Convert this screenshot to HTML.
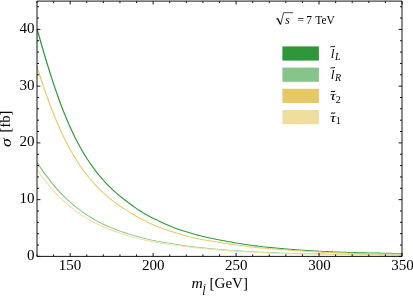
<!DOCTYPE html>
<html><head><meta charset="utf-8"><style>html,body{margin:0;padding:0;background:#fff}svg{display:block;will-change:transform}text{font-family:"Liberation Serif",serif;fill:#000}</style></head><body>
<svg width="413" height="296" viewBox="0 0 413 296">
<rect width="413" height="296" fill="#fff"/>
<path d="M36.38 29.14 L38.04 34.90 L39.70 40.66 L41.36 46.39 L43.02 52.06 L44.69 57.65 L46.35 63.16 L48.01 68.57 L49.67 73.88 L51.34 79.06 L53.00 84.12 L54.66 89.05 L56.33 93.85 L57.99 98.52 L59.65 103.05 L61.32 107.44 L62.98 111.71 L64.64 115.83 L66.31 119.83 L67.97 123.70 L69.63 127.43 L71.30 131.05 L72.96 134.54 L74.63 137.92 L76.29 141.18 L77.96 144.33 L79.62 147.37 L81.29 150.31 L82.95 153.15 L84.62 155.89 L86.28 158.54 L87.95 161.09 L89.61 163.57 L91.28 165.95 L92.94 168.26 L94.61 170.49 L96.28 172.65 L97.94 174.73 L99.61 176.75 L101.27 178.70 L102.94 180.59 L104.61 182.42 L106.27 184.19 L107.94 185.91 L109.60 187.57 L111.27 189.18 L112.94 190.74 L114.60 192.26 L116.27 193.73 L117.93 195.16 L119.60 196.54 L121.27 197.89 L122.93 199.20 L124.60 200.47 L126.26 201.71 L127.92 202.91 L129.58 204.13 L131.23 205.38 L132.90 206.63 L134.56 207.87 L136.23 209.07 L137.90 210.20 L139.57 211.27 L141.23 212.31 L142.90 213.32 L144.57 214.30 L146.23 215.24 L147.90 216.15 L149.57 217.03 L151.23 217.88 L152.90 218.72 L154.56 219.53 L156.22 220.33 L157.88 221.11 L159.54 221.89 L161.20 222.67 L162.86 223.45 L164.53 224.22 L166.19 224.96 L167.86 225.68 L169.52 226.39 L171.18 227.08 L172.85 227.76 L174.51 228.42 L176.18 229.05 L177.84 229.65 L179.51 230.22 L181.17 230.78 L182.84 231.32 L184.50 231.85 L186.16 232.36 L187.83 232.87 L189.49 233.36 L191.15 233.83 L192.81 234.29 L194.47 234.75 L196.14 235.20 L197.80 235.64 L199.46 236.07 L201.12 236.50 L202.78 236.92 L204.45 237.32 L206.11 237.71 L207.77 238.09 L209.44 238.44 L211.10 238.77 L212.76 239.09 L214.42 239.42 L216.08 239.75 L217.74 240.08 L219.40 240.41 L221.06 240.73 L222.72 241.05 L224.38 241.36 L226.04 241.68 L227.70 241.99 L229.36 242.29 L231.02 242.59 L232.68 242.88 L234.34 243.17 L236.00 243.46 L237.66 243.74 L239.32 244.01 L240.99 244.28 L242.65 244.55 L244.31 244.80 L245.97 245.05 L247.63 245.30 L249.29 245.53 L250.95 245.75 L252.62 245.97 L254.28 246.19 L255.93 246.40 L257.59 246.61 L259.25 246.81 L260.91 247.02 L262.58 247.22 L264.24 247.41 L265.90 247.60 L267.56 247.78 L269.22 247.95 L270.89 248.10 L272.55 248.25 L274.21 248.39 L275.87 248.53 L277.52 248.67 L279.18 248.82 L280.84 248.98 L282.50 249.13 L284.16 249.29 L285.82 249.44 L287.48 249.58 L289.14 249.72 L290.80 249.86 L292.46 249.99 L294.12 250.12 L295.78 250.25 L297.44 250.38 L299.10 250.50 L300.76 250.62 L302.42 250.73 L304.08 250.84 L305.74 250.95 L307.40 251.06 L309.06 251.16 L310.72 251.26 L312.38 251.36 L314.04 251.46 L315.70 251.55 L317.36 251.64 L319.02 251.73 L320.68 251.81 L322.34 251.90 L324.00 251.98 L325.66 252.06 L327.32 252.13 L328.98 252.21 L330.64 252.28 L332.30 252.35 L333.96 252.42 L335.62 252.49 L337.28 252.55 L338.94 252.61 L340.60 252.67 L342.26 252.73 L343.91 252.79 L345.57 252.84 L347.23 252.89 L348.89 252.95 L350.55 253.00 L352.21 253.04 L353.87 253.09 L355.53 253.14 L357.19 253.18 L358.85 253.22 L360.51 253.26 L362.17 253.30 L363.83 253.34 L365.49 253.37 L367.15 253.41 L368.81 253.44 L370.47 253.47 L372.13 253.50 L373.79 253.53 L375.44 253.57 L377.10 253.60 L378.76 253.64 L380.42 253.67 L382.08 253.70 L383.74 253.74 L385.40 253.77 L387.06 253.81 L388.72 253.84 L390.38 253.87 L392.04 253.90 L393.70 253.93 L395.35 253.96 L397.01 253.99 L398.67 254.02 L400.33 254.04 L401.99 254.07 L402.01 253.05 L400.35 253.03 L398.69 253.00 L397.03 252.98 L395.37 252.95 L393.71 252.92 L392.05 252.89 L390.40 252.86 L388.74 252.82 L387.08 252.79 L385.42 252.76 L383.76 252.72 L382.10 252.69 L380.44 252.65 L378.78 252.62 L377.12 252.59 L375.46 252.55 L373.81 252.52 L372.15 252.49 L370.49 252.45 L368.83 252.42 L367.17 252.39 L365.51 252.36 L363.85 252.32 L362.19 252.28 L360.53 252.24 L358.88 252.20 L357.22 252.16 L355.56 252.12 L353.90 252.07 L352.24 252.03 L350.58 251.98 L348.92 251.93 L347.27 251.88 L345.61 251.82 L343.95 251.77 L342.29 251.71 L340.63 251.65 L338.97 251.59 L337.31 251.53 L335.66 251.47 L334.00 251.40 L332.34 251.33 L330.68 251.26 L329.02 251.19 L327.36 251.12 L325.71 251.04 L324.05 250.96 L322.39 250.88 L320.73 250.80 L319.07 250.71 L317.41 250.62 L315.76 250.53 L314.10 250.44 L312.44 250.34 L310.78 250.24 L309.12 250.14 L307.46 250.04 L305.81 249.93 L304.15 249.82 L302.49 249.71 L300.83 249.59 L299.17 249.48 L297.52 249.35 L295.86 249.23 L294.20 249.10 L292.54 248.97 L290.88 248.84 L289.22 248.70 L287.57 248.56 L285.91 248.41 L284.25 248.26 L282.59 248.11 L280.93 247.96 L279.27 247.80 L277.61 247.65 L275.95 247.50 L274.29 247.36 L272.64 247.22 L270.98 247.08 L269.32 246.92 L267.67 246.76 L266.01 246.58 L264.35 246.39 L262.70 246.19 L261.04 245.99 L259.38 245.79 L257.72 245.58 L256.07 245.37 L254.41 245.16 L252.75 244.94 L251.09 244.73 L249.43 244.50 L247.78 244.27 L246.12 244.03 L244.47 243.78 L242.81 243.52 L241.15 243.25 L239.49 242.98 L237.84 242.71 L236.18 242.43 L234.52 242.14 L232.86 241.85 L231.21 241.56 L229.55 241.26 L227.89 240.96 L226.23 240.65 L224.57 240.34 L222.92 240.02 L221.26 239.70 L219.60 239.38 L217.94 239.05 L216.28 238.72 L214.63 238.38 L212.96 238.06 L211.31 237.73 L209.65 237.40 L208.00 237.06 L206.35 236.68 L204.69 236.29 L203.04 235.89 L201.38 235.47 L199.72 235.05 L198.07 234.61 L196.41 234.17 L194.75 233.73 L193.10 233.27 L191.44 232.81 L189.78 232.33 L188.13 231.85 L186.47 231.35 L184.82 230.83 L183.16 230.30 L181.51 229.76 L179.85 229.21 L178.20 228.64 L176.55 228.04 L174.90 227.42 L173.24 226.76 L171.59 226.09 L169.94 225.40 L168.28 224.69 L166.63 223.97 L164.97 223.23 L163.32 222.47 L161.66 221.70 L160.00 220.91 L158.34 220.13 L156.69 219.35 L155.03 218.55 L153.38 217.74 L151.72 216.91 L150.07 216.06 L148.42 215.19 L146.77 214.29 L145.11 213.35 L143.46 212.38 L141.81 211.37 L140.16 210.34 L138.51 209.28 L136.86 208.17 L135.21 206.98 L133.56 205.75 L131.90 204.50 L130.24 203.24 L128.58 202.02 L126.92 200.81 L125.27 199.58 L123.61 198.32 L121.96 197.02 L120.31 195.68 L118.66 194.30 L117.00 192.88 L115.35 191.42 L113.70 189.92 L112.05 188.36 L110.40 186.76 L108.74 185.11 L107.09 183.41 L105.44 181.65 L103.79 179.83 L102.14 177.95 L100.48 176.01 L98.83 174.01 L97.18 171.94 L95.53 169.79 L93.87 167.58 L92.22 165.28 L90.57 162.91 L88.92 160.45 L87.26 157.91 L85.61 155.28 L83.96 152.55 L82.31 149.72 L80.65 146.80 L79.00 143.77 L77.34 140.63 L75.69 137.39 L74.04 134.02 L72.38 130.54 L70.73 126.94 L69.08 123.21 L67.42 119.36 L65.77 115.37 L64.11 111.26 L62.46 107.01 L60.80 102.62 L59.15 98.10 L57.49 93.44 L55.84 88.65 L54.18 83.73 L52.53 78.67 L50.87 73.50 L49.22 68.20 L47.56 62.79 L45.91 57.29 L44.25 51.70 L42.59 46.03 L40.94 40.30 L39.28 34.55 L37.62 28.78Z" fill="#2f9a3b"/>
<path d="M36.46 162.59 L38.12 165.14 L39.79 167.64 L41.46 170.07 L43.13 172.44 L44.79 174.76 L46.46 177.01 L48.13 179.21 L49.80 181.34 L51.47 183.42 L53.14 185.43 L54.80 187.39 L56.47 189.29 L58.14 191.13 L59.81 192.92 L61.48 194.66 L63.15 196.34 L64.82 197.97 L66.48 199.56 L68.15 201.09 L69.82 202.58 L71.49 204.02 L73.16 205.41 L74.83 206.76 L76.49 208.08 L78.16 209.35 L79.83 210.60 L81.49 211.81 L83.16 212.99 L84.83 214.14 L86.49 215.26 L88.16 216.34 L89.83 217.39 L91.49 218.41 L93.16 219.40 L94.83 220.35 L96.49 221.27 L98.16 222.16 L99.83 223.02 L101.49 223.84 L103.16 224.64 L104.82 225.42 L106.49 226.17 L108.15 226.91 L109.82 227.62 L111.48 228.31 L113.15 228.98 L114.81 229.63 L116.47 230.27 L118.14 230.88 L119.80 231.48 L121.46 232.07 L123.13 232.63 L124.79 233.19 L126.45 233.72 L128.12 234.25 L129.78 234.75 L131.44 235.25 L133.10 235.74 L134.77 236.22 L136.43 236.69 L138.09 237.15 L139.75 237.61 L141.41 238.05 L143.07 238.48 L144.74 238.90 L146.40 239.31 L148.06 239.71 L149.72 240.10 L151.39 240.47 L153.05 240.83 L154.71 241.18 L156.37 241.50 L158.04 241.82 L159.70 242.12 L161.36 242.41 L163.02 242.69 L164.68 242.97 L166.34 243.24 L168.00 243.51 L169.66 243.78 L171.32 244.06 L172.98 244.32 L174.64 244.58 L176.30 244.83 L177.96 245.08 L179.62 245.32 L181.28 245.56 L182.95 245.79 L184.61 246.01 L186.27 246.23 L187.93 246.45 L189.59 246.66 L191.25 246.87 L192.91 247.07 L194.57 247.27 L196.23 247.46 L197.89 247.65 L199.55 247.83 L201.21 248.01 L202.87 248.19 L204.53 248.36 L206.19 248.53 L207.85 248.69 L209.51 248.86 L211.17 249.01 L212.83 249.17 L214.49 249.32 L216.15 249.47 L217.81 249.61 L219.47 249.75 L221.13 249.89 L222.79 250.03 L224.45 250.16 L226.11 250.29 L227.77 250.42 L229.43 250.54 L231.09 250.67 L232.75 250.79 L234.41 250.90 L236.07 251.02 L237.73 251.13 L239.38 251.24 L241.04 251.35 L242.70 251.45 L244.36 251.55 L246.02 251.65 L247.68 251.75 L249.34 251.85 L251.00 251.94 L252.66 252.04 L254.32 252.13 L255.98 252.22 L257.64 252.30 L259.30 252.39 L260.96 252.47 L262.62 252.55 L264.28 252.63 L265.94 252.71 L267.60 252.79 L269.26 252.86 L270.92 252.94 L272.58 253.01 L274.23 253.08 L275.89 253.15 L277.55 253.21 L279.21 253.28 L280.87 253.34 L282.53 253.41 L284.19 253.47 L285.85 253.53 L287.51 253.59 L289.17 253.64 L290.83 253.69 L292.49 253.74 L294.15 253.78 L295.81 253.81 L297.47 253.85 L299.13 253.88 L300.79 253.91 L302.45 253.94 L304.11 253.98 L305.77 254.01 L307.43 254.04 L309.08 254.07 L310.74 254.09 L312.40 254.12 L314.06 254.14 L315.72 254.17 L317.38 254.19 L319.04 254.22 L320.70 254.24 L322.36 254.26 L324.02 254.29 L325.68 254.32 L327.33 254.35 L328.99 254.38 L330.65 254.41 L332.31 254.44 L333.97 254.48 L335.63 254.51 L337.29 254.54 L338.95 254.57 L340.61 254.60 L342.27 254.63 L343.93 254.66 L345.59 254.69 L347.24 254.71 L348.90 254.74 L350.56 254.77 L352.22 254.79 L353.88 254.82 L355.54 254.84 L357.20 254.86 L358.86 254.89 L360.52 254.91 L362.18 254.93 L363.84 254.96 L365.50 254.98 L367.15 255.00 L368.81 255.02 L370.47 255.04 L372.13 255.06 L373.79 255.08 L375.45 255.10 L377.11 255.11 L378.77 255.13 L380.43 255.15 L382.09 255.17 L383.75 255.18 L385.41 255.20 L387.06 255.21 L388.72 255.23 L390.38 255.24 L392.04 255.26 L393.70 255.27 L395.36 255.29 L397.02 255.30 L398.68 255.31 L400.34 255.33 L402.00 255.34 L402.00 254.65 L400.34 254.64 L398.68 254.63 L397.03 254.62 L395.37 254.60 L393.71 254.59 L392.05 254.57 L390.39 254.56 L388.73 254.54 L387.07 254.53 L385.41 254.51 L383.75 254.49 L382.09 254.48 L380.44 254.46 L378.78 254.44 L377.12 254.43 L375.46 254.41 L373.80 254.39 L372.14 254.37 L370.48 254.35 L368.82 254.33 L367.16 254.31 L365.50 254.29 L363.85 254.26 L362.19 254.24 L360.53 254.22 L358.87 254.20 L357.21 254.17 L355.55 254.15 L353.89 254.12 L352.23 254.10 L350.57 254.07 L348.91 254.05 L347.26 254.02 L345.60 253.99 L343.94 253.96 L342.28 253.93 L340.62 253.90 L338.96 253.87 L337.30 253.84 L335.64 253.81 L333.98 253.78 L332.33 253.75 L330.67 253.71 L329.01 253.68 L327.35 253.65 L325.69 253.62 L324.03 253.59 L322.37 253.56 L320.71 253.54 L319.05 253.51 L317.39 253.49 L315.73 253.46 L314.07 253.44 L312.41 253.42 L310.76 253.39 L309.10 253.36 L307.44 253.33 L305.78 253.30 L304.12 253.27 L302.46 253.23 L300.80 253.20 L299.14 253.17 L297.48 253.14 L295.83 253.10 L294.17 253.06 L292.51 253.02 L290.85 252.98 L289.19 252.93 L287.53 252.87 L285.88 252.81 L284.22 252.75 L282.56 252.69 L280.90 252.63 L279.24 252.56 L277.58 252.49 L275.92 252.43 L274.27 252.36 L272.61 252.28 L270.95 252.21 L269.29 252.14 L267.63 252.06 L265.97 251.99 L264.31 251.91 L262.65 251.83 L261.00 251.74 L259.34 251.66 L257.68 251.57 L256.02 251.48 L254.36 251.40 L252.70 251.30 L251.04 251.21 L249.38 251.11 L247.73 251.02 L246.07 250.92 L244.41 250.82 L242.75 250.71 L241.09 250.61 L239.43 250.50 L237.77 250.39 L236.12 250.27 L234.46 250.16 L232.80 250.04 L231.14 249.92 L229.48 249.80 L227.82 249.67 L226.17 249.54 L224.51 249.41 L222.85 249.28 L221.19 249.14 L219.53 249.00 L217.87 248.85 L216.22 248.71 L214.56 248.56 L212.90 248.41 L211.24 248.25 L209.58 248.09 L207.92 247.93 L206.27 247.76 L204.61 247.59 L202.95 247.42 L201.29 247.24 L199.63 247.06 L197.98 246.87 L196.32 246.68 L194.66 246.49 L193.00 246.29 L191.34 246.08 L189.69 245.88 L188.03 245.66 L186.37 245.45 L184.71 245.23 L183.05 245.00 L181.40 244.77 L179.74 244.53 L178.08 244.28 L176.42 244.04 L174.77 243.78 L173.11 243.52 L171.45 243.25 L169.79 242.98 L168.13 242.71 L166.48 242.43 L164.82 242.16 L163.16 241.88 L161.50 241.59 L159.85 241.30 L158.19 241.00 L156.53 240.68 L154.88 240.35 L153.22 240.01 L151.57 239.65 L149.91 239.27 L148.26 238.88 L146.60 238.48 L144.95 238.07 L143.29 237.65 L141.63 237.22 L139.98 236.77 L138.32 236.32 L136.66 235.85 L135.01 235.38 L133.35 234.89 L131.69 234.40 L130.04 233.90 L128.38 233.39 L126.73 232.87 L125.07 232.33 L123.42 231.78 L121.76 231.21 L120.11 230.63 L118.45 230.02 L116.80 229.41 L115.14 228.77 L113.49 228.12 L111.84 227.45 L110.18 226.75 L108.53 226.04 L106.88 225.31 L105.22 224.55 L103.57 223.78 L101.92 222.98 L100.26 222.15 L98.61 221.30 L96.96 220.41 L95.31 219.49 L93.66 218.54 L92.01 217.56 L90.36 216.54 L88.71 215.49 L87.05 214.41 L85.40 213.29 L83.75 212.15 L82.10 210.97 L80.45 209.76 L78.80 208.52 L77.14 207.24 L75.49 205.93 L73.84 204.58 L72.19 203.19 L70.54 201.76 L68.89 200.28 L67.24 198.75 L65.59 197.17 L63.94 195.55 L62.29 193.87 L60.64 192.14 L58.99 190.36 L57.34 188.52 L55.70 186.62 L54.05 184.67 L52.40 182.66 L50.75 180.59 L49.10 178.47 L47.45 176.28 L45.80 174.03 L44.15 171.72 L42.50 169.35 L40.85 166.92 L39.20 164.43 L37.54 161.88Z" fill="#86c68b"/>
<path d="M36.43 66.99 L38.09 72.14 L39.75 77.21 L41.42 82.20 L43.08 87.10 L44.74 91.90 L46.40 96.58 L48.07 101.15 L49.73 105.61 L51.39 109.95 L53.05 114.16 L54.72 118.25 L56.38 122.23 L58.04 126.08 L59.71 129.81 L61.37 133.42 L63.04 136.92 L64.70 140.30 L66.36 143.58 L68.03 146.74 L69.69 149.80 L71.36 152.75 L73.02 155.61 L74.69 158.37 L76.35 161.03 L78.02 163.61 L79.68 166.10 L81.35 168.50 L83.01 170.82 L84.68 173.07 L86.34 175.23 L88.01 177.33 L89.68 179.36 L91.34 181.31 L93.01 183.21 L94.67 185.04 L96.34 186.81 L98.00 188.53 L99.67 190.19 L101.34 191.79 L103.00 193.35 L104.67 194.86 L106.33 196.32 L108.00 197.74 L109.67 199.11 L111.33 200.44 L113.00 201.73 L114.66 202.98 L116.33 204.20 L117.99 205.38 L119.66 206.53 L121.32 207.65 L122.99 208.73 L124.66 209.78 L126.32 210.81 L127.98 211.80 L129.64 212.81 L131.29 213.84 L132.95 214.88 L134.62 215.91 L136.28 216.91 L137.95 217.86 L139.62 218.77 L141.28 219.65 L142.95 220.51 L144.61 221.34 L146.28 222.15 L147.94 222.94 L149.60 223.72 L151.26 224.49 L152.93 225.24 L154.60 225.96 L156.26 226.65 L157.93 227.30 L159.60 227.93 L161.26 228.54 L162.92 229.14 L164.58 229.72 L166.25 230.29 L167.91 230.85 L169.57 231.41 L171.23 231.95 L172.89 232.48 L174.55 233.01 L176.21 233.52 L177.87 234.03 L179.53 234.55 L181.19 235.06 L182.86 235.56 L184.52 236.04 L186.19 236.50 L187.85 236.93 L189.51 237.35 L191.18 237.77 L192.84 238.17 L194.50 238.56 L196.16 238.94 L197.83 239.29 L199.50 239.62 L201.16 239.92 L202.83 240.20 L204.49 240.47 L206.15 240.74 L207.81 241.02 L209.47 241.28 L211.13 241.54 L212.78 241.80 L214.44 242.08 L216.10 242.36 L217.76 242.65 L219.42 242.93 L221.08 243.22 L222.74 243.49 L224.40 243.76 L226.06 244.01 L227.73 244.25 L229.39 244.48 L231.05 244.70 L232.71 244.92 L234.36 245.14 L236.02 245.38 L237.68 245.62 L239.34 245.86 L241.00 246.09 L242.66 246.32 L244.32 246.54 L245.98 246.76 L247.64 246.97 L249.30 247.18 L250.96 247.38 L252.62 247.58 L254.28 247.78 L255.94 247.97 L257.61 248.16 L259.27 248.32 L260.94 248.47 L262.60 248.60 L264.26 248.73 L265.91 248.86 L267.57 249.00 L269.23 249.14 L270.89 249.28 L272.55 249.42 L274.21 249.56 L275.87 249.70 L277.53 249.83 L279.19 249.95 L280.85 250.07 L282.51 250.19 L284.17 250.31 L285.83 250.43 L287.49 250.55 L289.15 250.66 L290.81 250.78 L292.47 250.90 L294.13 251.02 L295.79 251.13 L297.45 251.24 L299.10 251.35 L300.76 251.46 L302.42 251.56 L304.08 251.66 L305.74 251.76 L307.40 251.86 L309.06 251.95 L310.72 252.05 L312.38 252.14 L314.04 252.22 L315.70 252.31 L317.36 252.39 L319.02 252.48 L320.68 252.56 L322.34 252.63 L324.00 252.71 L325.66 252.79 L327.32 252.86 L328.98 252.93 L330.64 253.00 L332.30 253.07 L333.96 253.13 L335.62 253.20 L337.28 253.26 L338.94 253.32 L340.60 253.38 L342.26 253.44 L343.92 253.49 L345.58 253.55 L347.23 253.60 L348.89 253.66 L350.55 253.71 L352.21 253.76 L353.87 253.80 L355.53 253.85 L357.19 253.90 L358.85 253.94 L360.51 253.99 L362.17 254.03 L363.83 254.07 L365.49 254.11 L367.15 254.15 L368.81 254.19 L370.47 254.23 L372.13 254.26 L373.79 254.29 L375.45 254.32 L377.11 254.35 L378.77 254.37 L380.43 254.40 L382.09 254.42 L383.74 254.44 L385.40 254.45 L387.06 254.47 L388.72 254.48 L390.38 254.49 L392.04 254.51 L393.70 254.52 L395.36 254.53 L397.02 254.53 L398.68 254.54 L400.34 254.55 L402.00 254.56 L402.00 253.60 L400.34 253.59 L398.68 253.58 L397.03 253.57 L395.37 253.56 L393.71 253.56 L392.05 253.54 L390.39 253.53 L388.73 253.52 L387.07 253.51 L385.41 253.49 L383.76 253.47 L382.10 253.45 L380.44 253.43 L378.78 253.41 L377.12 253.39 L375.46 253.36 L373.80 253.33 L372.15 253.30 L370.49 253.26 L368.83 253.23 L367.17 253.19 L365.51 253.15 L363.85 253.11 L362.19 253.07 L360.54 253.02 L358.88 252.98 L357.22 252.93 L355.56 252.89 L353.90 252.84 L352.24 252.79 L350.58 252.74 L348.92 252.69 L347.27 252.64 L345.61 252.58 L343.95 252.53 L342.29 252.47 L340.63 252.41 L338.97 252.35 L337.31 252.29 L335.65 252.23 L334.00 252.17 L332.34 252.10 L330.68 252.03 L329.02 251.96 L327.36 251.89 L325.70 251.82 L324.04 251.74 L322.39 251.67 L320.73 251.59 L319.07 251.51 L317.41 251.43 L315.75 251.34 L314.09 251.26 L312.44 251.17 L310.78 251.08 L309.12 250.99 L307.46 250.89 L305.80 250.80 L304.14 250.70 L302.48 250.59 L300.83 250.49 L299.17 250.38 L297.51 250.28 L295.85 250.16 L294.19 250.05 L292.53 249.93 L290.88 249.81 L289.22 249.69 L287.56 249.57 L285.90 249.46 L284.24 249.34 L282.58 249.22 L280.92 249.10 L279.26 248.98 L277.61 248.85 L275.95 248.72 L274.29 248.59 L272.63 248.45 L270.97 248.31 L269.31 248.17 L267.66 248.03 L265.99 247.89 L264.33 247.75 L262.67 247.63 L261.02 247.49 L259.36 247.35 L257.71 247.18 L256.06 247.00 L254.40 246.80 L252.74 246.61 L251.08 246.41 L249.42 246.20 L247.77 245.99 L246.11 245.78 L244.45 245.56 L242.79 245.34 L241.14 245.11 L239.48 244.88 L237.82 244.65 L236.16 244.40 L234.50 244.17 L232.84 243.94 L231.18 243.72 L229.52 243.50 L227.86 243.27 L226.21 243.03 L224.55 242.78 L222.90 242.51 L221.24 242.24 L219.58 241.96 L217.93 241.67 L216.27 241.38 L214.61 241.10 L212.94 240.82 L211.28 240.56 L209.62 240.30 L207.97 240.04 L206.31 239.76 L204.65 239.49 L202.99 239.21 L201.34 238.93 L199.68 238.63 L198.03 238.31 L196.38 237.96 L194.73 237.58 L193.07 237.19 L191.41 236.79 L189.76 236.38 L188.10 235.96 L186.45 235.52 L184.80 235.07 L183.14 234.59 L181.49 234.09 L179.83 233.58 L178.17 233.07 L176.51 232.56 L174.86 232.04 L173.20 231.52 L171.54 230.99 L169.89 230.44 L168.23 229.89 L166.57 229.33 L164.92 228.76 L163.26 228.18 L161.61 227.58 L159.95 226.97 L158.30 226.35 L156.65 225.70 L155.00 225.02 L153.34 224.30 L151.69 223.56 L150.03 222.79 L148.38 222.02 L146.72 221.23 L145.07 220.42 L143.42 219.59 L141.76 218.74 L140.11 217.86 L138.46 216.96 L136.81 216.02 L135.16 215.03 L133.50 214.00 L131.84 212.96 L130.18 211.93 L128.52 210.91 L126.86 209.92 L125.21 208.90 L123.56 207.85 L121.90 206.77 L120.25 205.66 L118.60 204.52 L116.94 203.35 L115.29 202.14 L113.64 200.89 L111.99 199.61 L110.33 198.29 L108.68 196.92 L107.03 195.52 L105.38 194.06 L103.72 192.57 L102.07 191.02 L100.42 189.42 L98.77 187.77 L97.12 186.07 L95.46 184.31 L93.81 182.49 L92.16 180.61 L90.51 178.66 L88.85 176.65 L87.20 174.56 L85.55 172.41 L83.90 170.18 L82.24 167.87 L80.59 165.48 L78.94 163.00 L77.28 160.44 L75.63 157.79 L73.98 155.04 L72.32 152.20 L70.67 149.26 L69.02 146.21 L67.36 143.06 L65.71 139.80 L64.05 136.43 L62.40 132.94 L60.75 129.34 L59.09 125.62 L57.44 121.78 L55.78 117.82 L54.13 113.73 L52.47 109.53 L50.82 105.20 L49.16 100.75 L47.51 96.19 L45.85 91.51 L44.20 86.72 L42.54 81.83 L40.88 76.84 L39.23 71.77 L37.57 66.62Z" fill="#e9c963"/>
<path d="M36.52 169.55 L38.18 172.05 L39.85 174.47 L41.52 176.81 L43.18 179.09 L44.85 181.29 L46.51 183.43 L48.18 185.50 L49.85 187.50 L51.51 189.44 L53.18 191.31 L54.85 193.13 L56.51 194.89 L58.18 196.59 L59.85 198.23 L61.51 199.83 L63.18 201.38 L64.85 202.89 L66.51 204.36 L68.18 205.78 L69.84 207.16 L71.51 208.50 L73.18 209.79 L74.84 211.05 L76.51 212.26 L78.18 213.43 L79.84 214.57 L81.51 215.68 L83.17 216.76 L84.84 217.80 L86.51 218.81 L88.17 219.80 L89.84 220.75 L91.50 221.67 L93.17 222.56 L94.83 223.42 L96.50 224.25 L98.17 225.06 L99.83 225.84 L101.50 226.59 L103.16 227.32 L104.83 228.02 L106.49 228.71 L108.15 229.38 L109.82 230.03 L111.48 230.66 L113.15 231.28 L114.81 231.88 L116.47 232.46 L118.14 233.03 L119.80 233.58 L121.46 234.12 L123.12 234.66 L124.78 235.20 L126.44 235.74 L128.10 236.26 L129.77 236.77 L131.43 237.26 L133.10 237.73 L134.76 238.18 L136.42 238.60 L138.09 239.01 L139.75 239.42 L141.41 239.81 L143.07 240.19 L144.73 240.57 L146.40 240.93 L148.06 241.29 L149.72 241.63 L151.38 241.97 L153.04 242.30 L154.71 242.63 L156.37 242.92 L158.04 243.20 L159.70 243.45 L161.36 243.69 L163.02 243.92 L164.68 244.15 L166.34 244.38 L168.00 244.62 L169.65 244.87 L171.31 245.12 L172.97 245.37 L174.64 245.62 L176.30 245.85 L177.96 246.09 L179.62 246.32 L181.28 246.54 L182.94 246.76 L184.60 246.97 L186.26 247.18 L187.92 247.38 L189.58 247.58 L191.24 247.78 L192.90 247.97 L194.56 248.15 L196.22 248.34 L197.88 248.52 L199.54 248.69 L201.20 248.86 L202.86 249.03 L204.52 249.19 L206.18 249.35 L207.84 249.51 L209.50 249.66 L211.16 249.81 L212.82 249.96 L214.48 250.10 L216.14 250.24 L217.80 250.38 L219.46 250.51 L221.12 250.65 L222.78 250.78 L224.44 250.90 L226.10 251.02 L227.76 251.15 L229.42 251.26 L231.08 251.38 L232.74 251.49 L234.40 251.60 L236.06 251.71 L237.72 251.82 L239.38 251.92 L241.04 252.02 L242.70 252.12 L244.36 252.22 L246.02 252.32 L247.68 252.41 L249.34 252.50 L251.00 252.59 L252.66 252.68 L254.32 252.76 L255.98 252.85 L257.64 252.93 L259.30 253.01 L260.96 253.09 L262.62 253.17 L264.27 253.24 L265.93 253.31 L267.59 253.39 L269.25 253.46 L270.91 253.53 L272.57 253.59 L274.23 253.66 L275.89 253.73 L277.55 253.79 L279.21 253.85 L280.87 253.91 L282.53 253.97 L284.19 254.03 L285.85 254.09 L287.51 254.14 L289.17 254.19 L290.83 254.23 L292.49 254.27 L294.15 254.30 L295.81 254.33 L297.47 254.35 L299.13 254.38 L300.79 254.40 L302.45 254.42 L304.11 254.45 L305.77 254.48 L307.42 254.50 L309.08 254.53 L310.74 254.55 L312.40 254.57 L314.06 254.59 L315.72 254.62 L317.38 254.64 L319.04 254.66 L320.70 254.68 L322.36 254.70 L324.02 254.73 L325.67 254.75 L327.33 254.78 L328.99 254.81 L330.65 254.84 L332.31 254.87 L333.97 254.90 L335.63 254.93 L337.29 254.96 L338.95 254.99 L340.61 255.02 L342.27 255.05 L343.92 255.07 L345.58 255.10 L347.24 255.12 L348.90 255.15 L350.56 255.17 L352.22 255.20 L353.88 255.22 L355.54 255.24 L357.20 255.27 L358.86 255.29 L360.52 255.31 L362.18 255.33 L363.84 255.35 L365.49 255.37 L367.15 255.39 L368.81 255.41 L370.47 255.43 L372.13 255.45 L373.79 255.46 L375.45 255.48 L377.11 255.50 L378.77 255.52 L380.43 255.53 L382.09 255.55 L383.75 255.56 L385.40 255.58 L387.06 255.59 L388.72 255.61 L390.38 255.62 L392.04 255.64 L393.70 255.65 L395.36 255.66 L397.02 255.68 L398.68 255.69 L400.34 255.70 L402.00 255.71 L402.00 254.80 L400.34 254.79 L398.69 254.78 L397.03 254.76 L395.37 254.75 L393.71 254.74 L392.05 254.72 L390.39 254.71 L388.73 254.70 L387.07 254.68 L385.41 254.67 L383.75 254.65 L382.10 254.63 L380.44 254.62 L378.78 254.60 L377.12 254.59 L375.46 254.57 L373.80 254.55 L372.14 254.53 L370.48 254.51 L368.82 254.50 L367.16 254.48 L365.51 254.46 L363.85 254.44 L362.19 254.42 L360.53 254.39 L358.87 254.37 L357.21 254.35 L355.55 254.33 L353.89 254.30 L352.23 254.28 L350.57 254.26 L348.92 254.23 L347.26 254.21 L345.60 254.18 L343.94 254.16 L342.28 254.13 L340.62 254.10 L338.96 254.07 L337.30 254.04 L335.64 254.01 L333.99 253.98 L332.33 253.95 L330.67 253.92 L329.01 253.89 L327.35 253.86 L325.69 253.83 L324.03 253.81 L322.37 253.79 L320.71 253.76 L319.05 253.74 L317.39 253.72 L315.73 253.70 L314.07 253.67 L312.42 253.65 L310.76 253.63 L309.10 253.61 L307.44 253.58 L305.78 253.55 L304.12 253.53 L302.46 253.50 L300.80 253.48 L299.14 253.45 L297.48 253.43 L295.83 253.40 L294.17 253.38 L292.51 253.35 L290.85 253.31 L289.19 253.27 L287.54 253.22 L285.88 253.16 L284.22 253.11 L282.56 253.05 L280.90 252.99 L279.24 252.93 L277.59 252.86 L275.93 252.80 L274.27 252.73 L272.61 252.67 L270.95 252.60 L269.29 252.53 L267.63 252.46 L265.97 252.39 L264.32 252.31 L262.66 252.24 L261.00 252.16 L259.34 252.08 L257.68 252.00 L256.02 251.92 L254.36 251.83 L252.71 251.75 L251.05 251.66 L249.39 251.57 L247.73 251.48 L246.07 251.38 L244.41 251.29 L242.76 251.19 L241.10 251.09 L239.44 250.99 L237.78 250.88 L236.12 250.78 L234.46 250.67 L232.80 250.56 L231.15 250.44 L229.49 250.33 L227.83 250.21 L226.17 250.09 L224.51 249.96 L222.85 249.84 L221.20 249.71 L219.54 249.58 L217.88 249.44 L216.22 249.30 L214.56 249.16 L212.90 249.02 L211.25 248.87 L209.59 248.72 L207.93 248.57 L206.27 248.41 L204.61 248.25 L202.96 248.09 L201.30 247.92 L199.64 247.75 L197.98 247.57 L196.32 247.39 L194.67 247.21 L193.01 247.02 L191.35 246.83 L189.69 246.64 L188.03 246.44 L186.38 246.23 L184.72 246.02 L183.06 245.81 L181.40 245.59 L179.75 245.37 L178.09 245.14 L176.43 244.90 L174.77 244.66 L173.12 244.42 L171.46 244.17 L169.80 243.91 L168.14 243.66 L166.48 243.43 L164.82 243.20 L163.16 242.97 L161.50 242.73 L159.84 242.49 L158.19 242.24 L156.54 241.96 L154.88 241.67 L153.23 241.35 L151.57 241.02 L149.92 240.68 L148.26 240.33 L146.60 239.97 L144.95 239.61 L143.29 239.24 L141.63 238.85 L139.98 238.46 L138.32 238.06 L136.67 237.64 L135.01 237.22 L133.36 236.78 L131.71 236.31 L130.05 235.82 L128.40 235.31 L126.74 234.79 L125.09 234.26 L123.43 233.71 L121.77 233.17 L120.11 232.63 L118.46 232.08 L116.80 231.51 L115.15 230.93 L113.49 230.33 L111.84 229.72 L110.18 229.09 L108.53 228.44 L106.87 227.77 L105.22 227.09 L103.57 226.38 L101.91 225.65 L100.26 224.91 L98.61 224.13 L96.95 223.33 L95.30 222.50 L93.65 221.65 L92.00 220.76 L90.34 219.84 L88.69 218.90 L87.04 217.92 L85.39 216.91 L83.74 215.88 L82.08 214.81 L80.43 213.70 L78.78 212.57 L77.13 211.40 L75.47 210.20 L73.82 208.95 L72.17 207.66 L70.52 206.33 L68.87 204.96 L67.22 203.55 L65.56 202.09 L63.91 200.59 L62.26 199.04 L60.61 197.45 L58.96 195.82 L57.30 194.12 L55.65 192.38 L54.00 190.57 L52.35 188.71 L50.70 186.78 L49.05 184.79 L47.39 182.73 L45.74 180.61 L44.09 178.41 L42.44 176.15 L40.79 173.81 L39.13 171.40 L37.48 168.92Z" fill="#f1dfa0"/>
<g stroke="#000" stroke-width="0.92" fill="none">
<path d="M37.00 1.10 V256.40 H402.00 V1.10 Z"/>
<path d="M37.00 256.40 v-2.00 M37.00 1.10 v2.00 M53.59 256.40 v-2.00 M53.59 1.10 v2.00 M70.18 256.40 v-3.40 M70.18 1.10 v3.40 M86.77 256.40 v-2.00 M86.77 1.10 v2.00 M103.36 256.40 v-2.00 M103.36 1.10 v2.00 M119.95 256.40 v-2.00 M119.95 1.10 v2.00 M136.55 256.40 v-2.00 M136.55 1.10 v2.00 M153.14 256.40 v-3.40 M153.14 1.10 v3.40 M169.73 256.40 v-2.00 M169.73 1.10 v2.00 M186.32 256.40 v-2.00 M186.32 1.10 v2.00 M202.91 256.40 v-2.00 M202.91 1.10 v2.00 M219.50 256.40 v-2.00 M219.50 1.10 v2.00 M236.09 256.40 v-3.40 M236.09 1.10 v3.40 M252.68 256.40 v-2.00 M252.68 1.10 v2.00 M269.27 256.40 v-2.00 M269.27 1.10 v2.00 M285.86 256.40 v-2.00 M285.86 1.10 v2.00 M302.45 256.40 v-2.00 M302.45 1.10 v2.00 M319.05 256.40 v-3.40 M319.05 1.10 v3.40 M335.64 256.40 v-2.00 M335.64 1.10 v2.00 M352.23 256.40 v-2.00 M352.23 1.10 v2.00 M368.82 256.40 v-2.00 M368.82 1.10 v2.00 M385.41 256.40 v-2.00 M385.41 1.10 v2.00 M402.00 256.40 v-3.40 M402.00 1.10 v3.40 M37.00 256.40 h3.40 M402.00 256.40 h-3.40 M37.00 245.05 h2.00 M402.00 245.05 h-2.00 M37.00 233.70 h2.00 M402.00 233.70 h-2.00 M37.00 222.35 h2.00 M402.00 222.35 h-2.00 M37.00 211.00 h2.00 M402.00 211.00 h-2.00 M37.00 199.65 h3.40 M402.00 199.65 h-3.40 M37.00 188.30 h2.00 M402.00 188.30 h-2.00 M37.00 176.95 h2.00 M402.00 176.95 h-2.00 M37.00 165.60 h2.00 M402.00 165.60 h-2.00 M37.00 154.25 h2.00 M402.00 154.25 h-2.00 M37.00 142.90 h3.40 M402.00 142.90 h-3.40 M37.00 131.55 h2.00 M402.00 131.55 h-2.00 M37.00 120.20 h2.00 M402.00 120.20 h-2.00 M37.00 108.85 h2.00 M402.00 108.85 h-2.00 M37.00 97.50 h2.00 M402.00 97.50 h-2.00 M37.00 86.15 h3.40 M402.00 86.15 h-3.40 M37.00 74.80 h2.00 M402.00 74.80 h-2.00 M37.00 63.45 h2.00 M402.00 63.45 h-2.00 M37.00 52.10 h2.00 M402.00 52.10 h-2.00 M37.00 40.75 h2.00 M402.00 40.75 h-2.00 M37.00 29.40 h3.40 M402.00 29.40 h-3.40 M37.00 18.05 h2.00 M402.00 18.05 h-2.00 M37.00 6.70 h2.00 M402.00 6.70 h-2.00"/>
</g>
<text x="70.08" y="269.6" font-size="15" text-anchor="middle">150</text>
<text x="153.19" y="269.6" font-size="15" text-anchor="middle">200</text>
<text x="236.29" y="269.6" font-size="15" text-anchor="middle">250</text>
<text x="319.40" y="269.6" font-size="15" text-anchor="middle">300</text>
<text x="402.50" y="269.6" font-size="15" text-anchor="middle">350</text>
<text x="34.6" y="259.90" font-size="15" text-anchor="end">0</text>
<text x="34.6" y="203.15" font-size="15" text-anchor="end">10</text>
<text x="34.6" y="146.40" font-size="15" text-anchor="end">20</text>
<text x="34.6" y="89.65" font-size="15" text-anchor="end">30</text>
<text x="34.6" y="32.90" font-size="15" text-anchor="end">40</text>
<text transform="translate(10.6,147.1) rotate(-90) scale(1.18,1)" font-size="15" font-style="italic">σ</text>
<text transform="translate(9.9,132.4) rotate(-90)" font-size="14.5">[fb]</text>
<text x="191.5" y="288.2" font-size="15.6" font-style="italic">m</text>
<text x="202.2" y="294.8" font-size="11.5" font-style="italic">l</text>
<path d="M203.70 285.10 c0.52 -0.55 0.99 -0.45 1.30 -0.3 s0.83 0.15 1.30 -0.35" stroke="#000" stroke-width="0.60" fill="none"/>
<text x="209.6" y="288.1" font-size="15">[GeV]</text>
<path d="M275.9 19.3 L277.5 18.3" stroke="#000" stroke-width="0.6" fill="none"/>
<path d="M277.4 18.3 L280.5 24.3" stroke="#000" stroke-width="1.4" fill="none"/>
<path d="M280.6 24.7 L283.6 12.7 H293.1" stroke="#000" stroke-width="0.7" fill="none"/>
<text x="285.2" y="23.8" font-size="11.5" font-style="italic">s</text>
<text x="297.6" y="23.8" font-size="11.5">=</text>
<text x="306.2" y="23.8" font-size="11.5">7</text>
<text x="315.3" y="23.8" font-size="11.5">TeV</text>
<rect x="282.4" y="46.40" width="36.5" height="14.2" fill="#2f973a"/>
<rect x="282.4" y="67.60" width="36.5" height="14.2" fill="#86c48a"/>
<rect x="282.4" y="88.80" width="36.5" height="14.2" fill="#e6c964"/>
<rect x="282.4" y="110.00" width="36.5" height="14.2" fill="#f0de9e"/>
<text x="330.7" y="57.50" font-size="13.5" font-style="italic">l</text>
<text x="334.9" y="59.60" font-size="10" font-style="italic">L</text>
<path d="M330.40 46.90 c0.90 -0.55 1.71 -0.45 2.25 -0.3 s1.44 0.15 2.25 -0.35" stroke="#000" stroke-width="1.00" fill="none"/>
<text x="330.7" y="78.70" font-size="13.5" font-style="italic">l</text>
<text x="334.9" y="80.80" font-size="10" font-style="italic">R</text>
<path d="M330.40 68.10 c0.90 -0.55 1.71 -0.45 2.25 -0.3 s1.44 0.15 2.25 -0.35" stroke="#000" stroke-width="1.00" fill="none"/>
<text transform="translate(329.9,100.20) scale(1.28,1)" font-size="13" font-style="italic">τ</text>
<text x="335.8" y="102.50" font-size="10">2</text>
<path d="M330.90 91.80 c0.86 -0.55 1.63 -0.45 2.15 -0.3 s1.38 0.15 2.15 -0.35" stroke="#000" stroke-width="1.00" fill="none"/>
<text transform="translate(329.9,121.80) scale(1.28,1)" font-size="13" font-style="italic">τ</text>
<text x="335.8" y="124.10" font-size="10">1</text>
<path d="M330.90 113.40 c0.86 -0.55 1.63 -0.45 2.15 -0.3 s1.38 0.15 2.15 -0.35" stroke="#000" stroke-width="1.00" fill="none"/>
</svg></body></html>
